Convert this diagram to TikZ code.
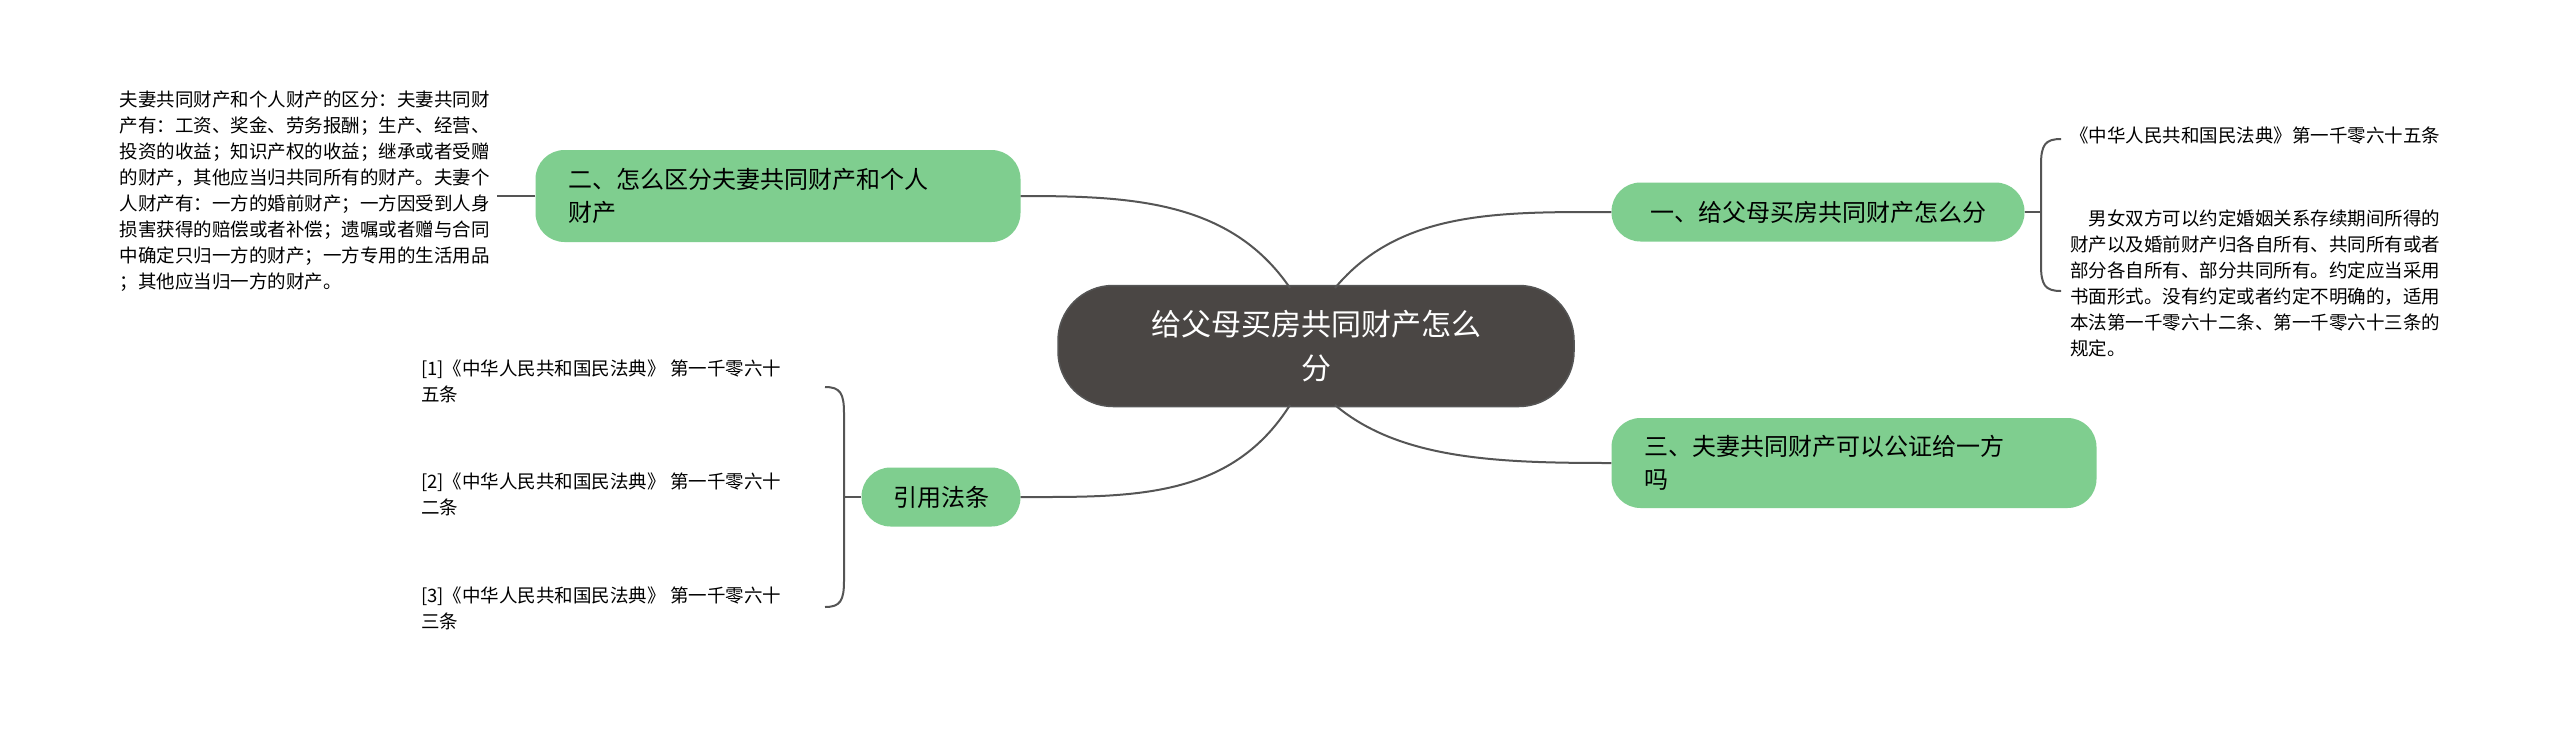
\documentclass[tikz,border=0pt]{standalone}
\usepackage{fontspec}
\setmainfont{Noto Sans CJK SC}
\begin{document}
\begin{tikzpicture}[x=1pt,y=-1pt,
 green/.style={rounded corners=29pt,fill=topic,draw=none,text=black,font=\fontsize{24}{33}\selectfont,align=left,inner sep=0pt},
 leaf/.style={align=left,font=\fontsize{18.5}{26}\selectfont,inner sep=0pt,anchor=north west,text=black},
 conn/.style={draw=linec,line width=2pt}]
\definecolor{topic}{HTML}{7FCE8F}
\definecolor{linec}{HTML}{555555}
\definecolor{dark}{HTML}{4A4644}
\fill[white] (0,0) rectangle (2560,729);
\useasboundingbox (0,0) rectangle (2560,729);
\node[rounded corners=55pt,fill=dark,draw=linec,line width=1.5pt,minimum width=516pt,minimum height=121pt,text=white,align=center,font=\fontsize{30}{44}\selectfont] (c) at (1316,346) {给父母买房共同财产怎么\\分};
\node[green,minimum width=413pt,minimum height=59pt,align=center] (n1) at (1818,212) {一、给父母买房共同财产怎么分};
\node[green,minimum width=485pt,minimum height=92pt,text width=420pt] (n2) at (778,196) {二、怎么区分夫妻共同财产和个人\\财产};
\node[green,minimum width=485pt,minimum height=90pt,text width=420pt] (n3) at (1854,463) {三、夫妻共同财产可以公证给一方\\吗};
\node[green,minimum width=159pt,minimum height=59pt,align=center] (n4) at (941,497) {引用法条};
\draw[conn] (c.north east) ++(-90,8) coordinate (c1);
\draw[conn] (1335,288) .. controls (1400,210) and (1500,212) .. (n1.west);
\draw[conn] (1290,288) .. controls (1230,200) and (1130,196) .. (n2.east);
\draw[conn] (1335,405) .. controls (1400,460) and (1500,463) .. (n3.west);
\draw[conn] (1290,405) .. controls (1230,500) and (1130,497) .. (n4.east);
% right leaves
\node[leaf] (r1) at (2070,127) {《中华人民共和国民法典》第一千零六十五条};
\node[leaf] (r2) at (2070,210) {\hspace{1em}男女双方可以约定婚姻关系存续期间所得的\\财产以及婚前财产归各自所有、共同所有或者\\部分各自所有、部分共同所有。约定应当采用\\书面形式。没有约定或者约定不明确的，适用\\本法第一千零六十二条、第一千零六十三条的\\规定。};
\draw[conn] (n1.east) -- (2041,212);
\draw[conn] (2061,139) .. controls (2045,139) and (2041,145) .. (2041,165) -- (2041,265) .. controls (2041,285) and (2045,291) .. (2061,291);
% left leaf
\node[leaf,anchor=north east] (l1) at (490,91) {夫妻共同财产和个人财产的区分：夫妻共同财\\产有：工资、奖金、劳务报酬；生产、经营、\\投资的收益；知识产权的收益；继承或者受赠\\的财产，其他应当归共同所有的财产。夫妻个\\人财产有：一方的婚前财产；一方因受到人身\\损害获得的赔偿或者补偿；遗嘱或者赠与合同\\中确定只归一方的财产；一方专用的生活用品\\；其他应当归一方的财产。};
\draw[conn] (n2.west) -- (497,196);
% refs
\node[leaf] (f1) at (421,360) {[1]《中华人民共和国民法典》 第一千零六十\\五条};
\node[leaf] (f2) at (421,473) {[2]《中华人民共和国民法典》 第一千零六十\\二条};
\node[leaf] (f3) at (421,587) {[3]《中华人民共和国民法典》 第一千零六十\\三条};
\draw[conn] (n4.west) -- (844,497);
\draw[conn] (825,387) .. controls (840,387) and (844,393) .. (844,413) -- (844,581) .. controls (844,601) and (840,607) .. (825,607);
\end{tikzpicture}
\end{document}
